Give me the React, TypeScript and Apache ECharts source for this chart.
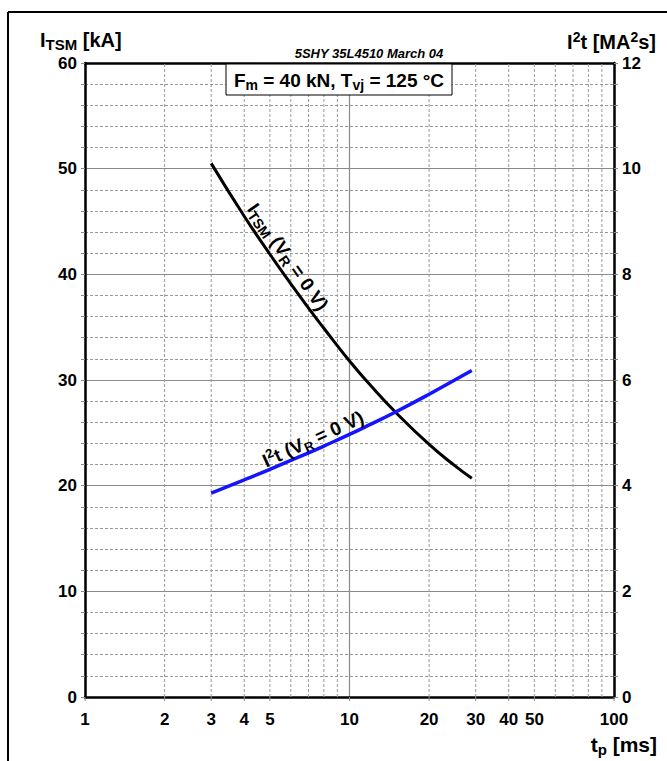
import React, { useEffect, useRef } from 'react';
import * as echarts from 'echarts';

const FONT = '"Liberation Sans", Arial, Helvetica, sans-serif';

// pulse duration t_p [ms]
const tp = [3, 4, 5, 6, 7, 8, 10, 12, 15, 20, 25, 29];
// surge current I_TSM [kA]
const itsm = [50.5, 45.5, 41.9, 39.1, 36.8, 34.9, 31.8, 29.5, 26.9, 23.9, 21.9, 20.7];
// limiting load integral I2t [MA2s]
const i2t = [3.86, 4.11, 4.31, 4.48, 4.62, 4.75, 4.97, 5.16, 5.4, 5.73, 6.0, 6.18];

const xTickLabels = [1, 2, 3, 4, 5, 10, 20, 30, 40, 50, 100];
const xMinorGrid = [2, 3, 4, 5, 6, 7, 8, 9, 20, 30, 40, 50, 60, 70, 80, 90];

const GRID_GRAY = '#8a8a8a';

function rich(size: number, sub: number, shift = 0.5) {
  return {
    n: { fontSize: size, fontWeight: 'bold', fontFamily: FONT, fill: '#000', verticalAlign: 'middle' },
    s: { fontSize: sub, fontWeight: 'bold', fontFamily: FONT, fill: '#000', verticalAlign: 'middle', padding: [Math.round(size * shift), 0, 0, 0] },
    u: { fontSize: sub, fontWeight: 'bold', fontFamily: FONT, fill: '#000', verticalAlign: 'middle', padding: [0, 0, Math.round(size * shift), 0] },
  };
}

export default function App() {
  const ref = useRef<HTMLDivElement>(null);
  useEffect(() => {
    if (!ref.current) return;
    const chart = echarts.init(ref.current, null, { renderer: 'svg' });
    const option: any = {
      animation: false,
      backgroundColor: '#fff',
      grid: { left: 85, right: 53, top: 63, bottom: 64, containLabel: false },
      xAxis: [
        {
          type: 'log', logBase: 10, min: 1, max: 100, position: 'bottom',
          axisLine: { show: true, onZero: false, lineStyle: { color: '#000', width: 2.5 } },
          axisTick: { show: false },
          axisLabel: { show: false },
          splitLine: { show: true, lineStyle: { color: GRID_GRAY, width: 1.2, type: 'solid' } },
        },
        {
          type: 'log', logBase: 10, min: 1, max: 100, position: 'top',
          axisLine: { show: true, onZero: false, lineStyle: { color: '#000', width: 2.5 } },
          axisTick: { show: false },
          axisLabel: { show: false },
          splitLine: { show: false },
        },
      ],
      yAxis: [
        {
          type: 'value', min: 0, max: 60, interval: 10, position: 'left',
          axisLine: { show: true, lineStyle: { color: '#000', width: 2.5 } },
          axisTick: { show: true, length: 4, lineStyle: { color: GRID_GRAY } },
          minorTick: { show: true, splitNumber: 5, length: 4, lineStyle: { color: GRID_GRAY } },
          axisLabel: { margin: 8, fontSize: 17, fontWeight: 'bold', color: '#000', fontFamily: FONT },
          splitLine: { show: true, lineStyle: { color: GRID_GRAY, width: 1.2 } },
          minorSplitLine: { show: true, lineStyle: { color: '#999', width: 1, type: [3, 2] } },
        },
        {
          type: 'value', min: 0, max: 12, interval: 2, position: 'right',
          axisLine: { show: true, lineStyle: { color: '#000', width: 2.5 } },
          axisTick: { show: true, length: 4, lineStyle: { color: GRID_GRAY } },
          minorTick: { show: true, splitNumber: 5, length: 4, lineStyle: { color: GRID_GRAY } },
          axisLabel: { margin: 8, fontSize: 17, fontWeight: 'bold', color: '#000', fontFamily: FONT },
          splitLine: { show: false },
        },
      ],
      series: [
        {
          type: 'custom',
          name: 'minorGrid',
          xAxisIndex: 0, yAxisIndex: 0,
          z: 1,
          silent: true,
          data: xMinorGrid.map((v) => [v, 0]),
          encode: { x: 0, y: 1 },
          renderItem: (params: any, api: any) => {
            const v = api.value(0);
            const b = api.coord([v, 0]);
            const t = api.coord([v, 60]);
            return {
              type: 'line',
              shape: { x1: b[0], y1: b[1], x2: t[0], y2: t[1] },
              style: { stroke: '#999', lineWidth: 1, lineDash: [3, 2] },
            };
          },
        },
        {
          type: 'custom',
          name: 'xLabels',
          xAxisIndex: 0, yAxisIndex: 0,
          z: 3,
          silent: true,
          data: xTickLabels.map((v) => [v, 0]),
          encode: { x: 0, y: 1 },
          renderItem: (params: any, api: any) => {
            const v = api.value(0);
            const p = api.coord([v, 0]);
            return {
              type: 'group',
              children: [
                {
                  type: 'line',
                  shape: { x1: p[0], y1: p[1], x2: p[0], y2: p[1] + 4 },
                  style: { stroke: GRID_GRAY, lineWidth: 1 },
                },
                {
                  type: 'text',
                  x: p[0], y: p[1] + 14,
                  style: {
                    text: String(v), align: 'center', verticalAlign: 'top',
                    fontSize: 17, fontWeight: 'bold', fontFamily: FONT, fill: '#000',
                  },
                },
              ],
            };
          },
        },
        {
          type: 'line',
          name: 'ITSM',
          xAxisIndex: 0, yAxisIndex: 0,
          z: 5,
          smooth: true,
          showSymbol: false,
          data: tp.map((t, i) => [t, itsm[i]]),
          lineStyle: { color: '#000', width: 3 },
        },
        {
          type: 'line',
          name: 'I2t',
          xAxisIndex: 0, yAxisIndex: 1,
          z: 5,
          smooth: true,
          showSymbol: false,
          data: tp.map((t, i) => [t, i2t[i]]),
          lineStyle: { color: '#1414ff', width: 3.5 },
        },
      ],
      graphic: [
        { type: 'line', shape: { x1: 8, y1: 12, x2: 667, y2: 12 }, style: { stroke: '#000', lineWidth: 2 }, z: 50 },
        { type: 'line', shape: { x1: 8, y1: 12, x2: 8, y2: 761 }, style: { stroke: '#000', lineWidth: 2 }, z: 50 },
        {
          type: 'text', x: 40, y: 40, z: 50,
          style: { text: '{n|I}{s|TSM}{n| [kA]}', align: 'left', verticalAlign: 'middle', rich: rich(20, 15, 0.4) },
        },
        {
          type: 'text', x: 656, y: 42, z: 50,
          style: { text: '{n|I}{u|2}{n|t [MA}{u|2}{n|s]}', align: 'right', verticalAlign: 'middle', rich: rich(20, 14) },
        },
        {
          type: 'text', x: 657, y: 744, z: 50,
          style: { text: '{n|t}{s|p}{n| [ms]}', align: 'right', verticalAlign: 'middle', rich: rich(21, 15) },
        },
        {
          type: 'text', x: 369, y: 53, z: 50,
          style: {
            text: '5SHY 35L4510 March 04', align: 'center', verticalAlign: 'middle',
            fontSize: 13, fontWeight: 'bold', fontStyle: 'italic', fontFamily: FONT, fill: '#000',
          },
        },
        {
          type: 'rect', z: 60,
          shape: { x: 226, y: 64, width: 226, height: 31 },
          style: { fill: '#fff', stroke: '#000', lineWidth: 1 },
        },
        {
          type: 'text', x: 339, y: 80, z: 61,
          style: { text: '{n|F}{s|m}{n| = 40 kN, T}{s|vj}{n| = 125 °C}', align: 'center', verticalAlign: 'middle', rich: rich(19, 14) },
        },
        {
          type: 'text', x: 288, y: 257, z: 61, rotation: -0.96,
          style: { text: '{n|I}{s|TSM}{n| (V}{s|R}{n| = 0 V)}', align: 'center', verticalAlign: 'middle', rich: rich(19, 14) },
        },
        {
          type: 'text', x: 313, y: 439, z: 61, rotation: 0.43,
          style: { text: '{n|I}{u|2}{n|t (V}{s|R}{n| = 0 V)}', align: 'center', verticalAlign: 'middle', rich: rich(19, 13) },
        },
      ],
    };
    chart.setOption(option);
    return () => chart.dispose();
  }, []);
  return (
    <div
      ref={ref}
      style={{ position: 'absolute', left: 0, top: 0, width: 667, height: 761, background: '#fff' }}
    />
  );
}
